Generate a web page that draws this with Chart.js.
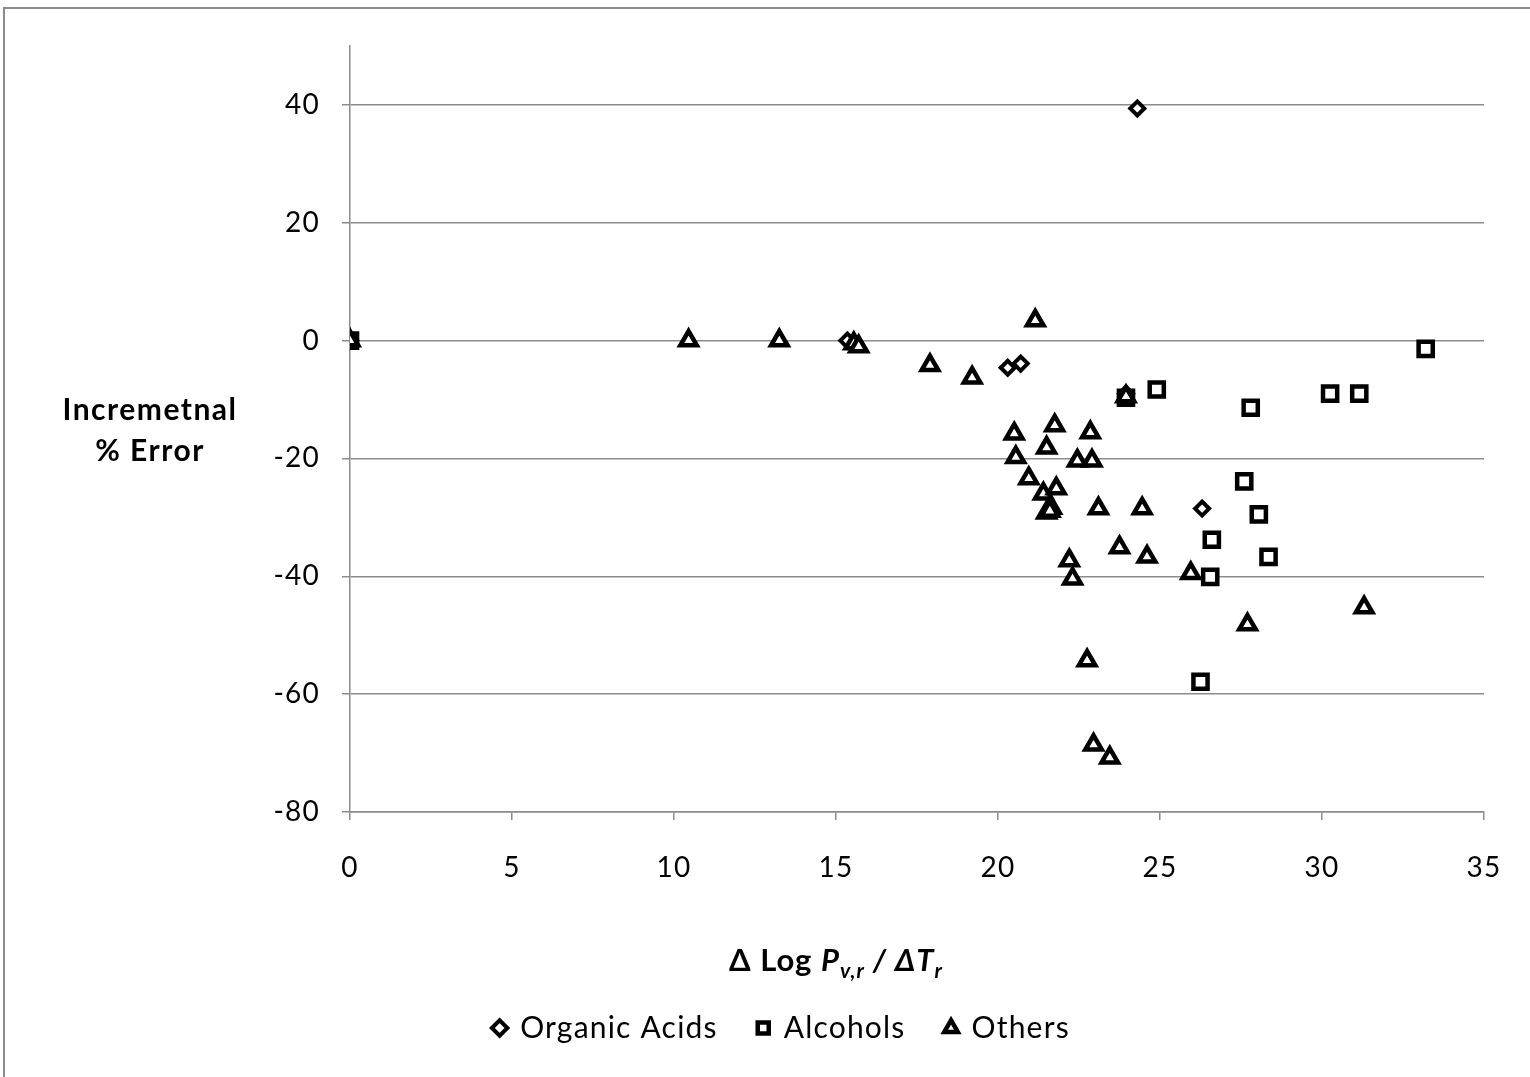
<!DOCTYPE html>
<html>
<head>
<meta charset="utf-8">
<script src="https://cdn.jsdelivr.net/npm/chart.js@4.4.1/dist/chart.umd.min.js"></script>
<style>
  html, body { margin: 0; padding: 0; background: #fff; overflow: hidden; }
  #wrap { position: relative; width: 1530px; height: 1077px; }
  #frame { position: absolute; left: 3px; top: 7px; width: 1560px; height: 1100px;
           border-left: 2px solid #8c8c8c; border-top: 2px solid #8c8c8c; }
  canvas { position: absolute; left: 0; top: 0; }
</style>
</head>
<body>
<div id="wrap">
  <div id="frame"></div>
  <canvas id="errChart"></canvas>
</div>
<script>
// tick values
const xTicks = [0, 5, 10, 15, 20, 25, 30, 35];
const yTicks = [-80, -60, -40, -20, 0, 20, 40];

// Organic Acids
const acidsX = [0, 15.35, 20.3, 20.7, 23.95, 24.3, 26.3];
const acidsY = [0, 0, -4.6, -3.9, -9.0, 39.4, -28.5];

// Alcohols
const alcoholsX = [0, 23.95, 24.9, 27.8, 30.25, 31.15, 33.2, 27.6, 28.05, 26.6, 28.35, 26.55, 26.25];
const alcoholsY = [0, -9.7, -8.3, -11.4, -9.0, -9.0, -1.4, -23.9, -29.5, -33.8, -36.7, -40.1, -57.9];

// Others
const othersX = [0, 10.45, 13.25, 15.55, 15.7, 21.15, 17.9, 19.2, 20.5, 21.75, 22.85, 21.5, 20.55, 22.45,
                 22.9, 20.95, 21.4, 21.8, 21.5, 21.65, 21.6, 23.1, 24.45, 23.75, 24.6, 22.2, 22.3, 25.95,
                 27.7, 31.3, 22.75, 22.95, 23.45, 23.95];
const othersY = [0, 0, 0, -0.5, -1.0, 3.4, -4.2, -6.3, -15.8, -14.4, -15.6, -18.2, -19.8, -20.4,
                 -20.4, -23.4, -26.0, -25.1, -29.2, -28.4, -28.9, -28.5, -28.5, -35.1, -36.7, -37.3, -40.4, -39.5,
                 -48.2, -45.3, -54.3, -68.6, -70.8, -9.5];

const toPoints = (xs, ys) => xs.map((x, i) => ({ x: x, y: ys[i] }));

const FONT = 'Lato, "Open Sans", sans-serif';
const GRID = '#8c8c8c';

// slightly open letter spacing for tick and legend text (set before layout so widths are measured with it)
const spacing = {
  id: 'spacing',
  beforeUpdate(chart) { chart.ctx.letterSpacing = '1.2px'; },
  beforeDraw(chart) { chart.ctx.letterSpacing = '1.2px'; }
};

// axis titles: the x title needs italics and subscripts, the y title sits horizontally
const axisTitles = {
  id: 'axisTitles',
  afterDraw(chart) {
    const ctx = chart.ctx;
    ctx.save();
    ctx.fillStyle = '#000';
    ctx.textBaseline = 'alphabetic';
    ctx.letterSpacing = '1.5px';

    // y title, two centred lines
    ctx.font = 'bold 30px ' + FONT;
    ctx.textAlign = 'center';
    ctx.fillText('Incremetnal', 150, 420);
    ctx.fillText('% Error', 150, 461);

    // x title: Δ Log P(v,r) / ΔT(r)
    ctx.letterSpacing = '1px';
    const parts = [
      { t: 'Δ Log ', f: 'bold 31px ', dy: 0 },
      { t: 'P', f: 'italic bold 31px ', dy: 0 },
      { t: 'v,r', f: 'italic bold 21px ', dy: 7 },
      { t: ' / ΔT', f: 'italic bold 31px ', dy: 0 },
      { t: 'r', f: 'italic bold 21px ', dy: 7 }
    ];
    let total = 0;
    parts.forEach(p => { ctx.font = p.f + FONT; p.w = ctx.measureText(p.t).width; total += p.w; });
    let x = 836 - total / 2;
    const base = 971;
    ctx.textAlign = 'left';
    parts.forEach(p => {
      ctx.font = p.f + FONT;
      ctx.fillText(p.t, x, base + p.dy);
      x += p.w;
    });
    ctx.restore();
  }
};

const ctx = document.getElementById('errChart').getContext('2d');
new Chart(ctx, {
  type: 'scatter',
  data: {
    datasets: [
      {
        label: 'Organic Acids',
        data: toPoints(acidsX, acidsY),
        pointStyle: 'rectRot',
        pointRadius: 7,
        pointBorderWidth: 4,
        borderColor: '#000',
        backgroundColor: '#fff',
        order: 3
      },
      {
        label: 'Alcohols',
        data: toPoints(alcoholsX, alcoholsY),
        pointStyle: 'rect',
        pointRadius: 10,
        pointBorderWidth: 4.5,
        borderColor: '#000',
        backgroundColor: '#fff',
        order: 2
      },
      {
        label: 'Others',
        data: toPoints(othersX, othersY),
        pointStyle: 'triangle',
        pointRadius: 9.5,
        pointBorderWidth: 4.5,
        borderColor: '#000',
        backgroundColor: '#fff',
        order: 1
      }
    ]
  },
  options: {
    responsive: true,
    maintainAspectRatio: false,
    animation: false,
    layout: { padding: { top: 46, right: 46, bottom: 24, left: 80 } },
    plugins: {
      tooltip: { enabled: false },
      legend: {
        position: 'bottom',
        labels: {
          usePointStyle: true,
          boxWidth: 11,
          boxHeight: 11,
          padding: 40,
          color: '#000',
          font: { family: FONT, size: 30 },
          sort: (a, b) => a.datasetIndex - b.datasetIndex
        }
      }
    },
    scales: {
      x: {
        type: 'linear',
        min: 0,
        max: 35,
        afterBuildTicks: s => { s.ticks = xTicks.map(v => ({ value: v })); },
        afterFit: s => { s.height = 161; s.paddingLeft = 0; s.paddingRight = 0; },
        grid: { drawOnChartArea: false, color: GRID, lineWidth: 1.5, tickLength: 8 },
        border: { color: GRID, width: 1.5 },
        ticks: { color: '#000', padding: 31, maxRotation: 0, font: { family: FONT, size: 28 } }
      },
      y: {
        type: 'linear',
        min: -80,
        max: 50,
        afterBuildTicks: s => { s.ticks = yTicks.map(v => ({ value: v })); },
        afterFit: s => { s.width = 270; s.paddingTop = 0; s.paddingBottom = 0; },
        grid: { color: GRID, lineWidth: 1.5, tickLength: 8 },
        border: { color: GRID, width: 1.5 },
        ticks: { color: '#000', padding: 22, font: { family: FONT, size: 28 } }
      }
    }
  },
  plugins: [spacing, axisTitles]
});
</script>
</body>
</html>
